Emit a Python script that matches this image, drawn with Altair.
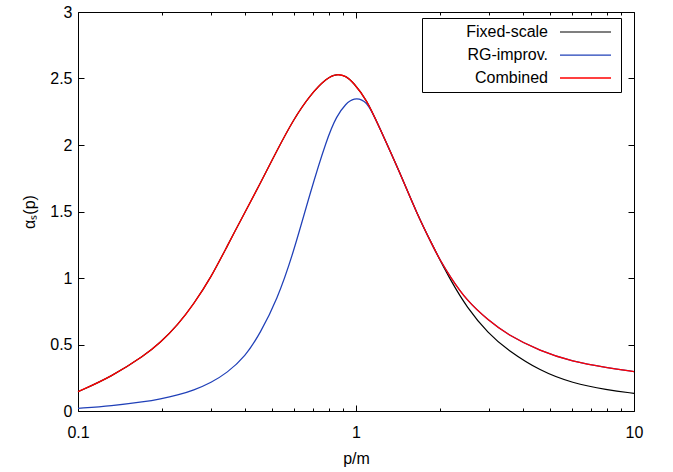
import altair as alt
import pandas as pd

# momentum p/m (log axis)
p_vals = [0.1, 0.132, 0.174, 0.197, 0.229, 0.26, 0.302, 0.343, 0.40, 0.452,
          0.52, 0.595, 0.683, 0.785, 0.852, 0.92, 0.978, 1.093, 1.203, 1.44,
          1.65, 1.9, 2.0, 2.18, 2.5, 3.0, 3.5, 4.6, 6.0, 8.0, 10.0]

fixed_scale = [0.145, 0.258, 0.42, 0.51, 0.65, 0.80, 1.01, 1.235, 1.50, 1.71,
               1.96, 2.19, 2.375, 2.505, 2.535, 2.52, 2.47, 2.34, 2.15, 1.79,
               1.49, 1.23, 1.14, 0.99, 0.78, 0.58, 0.46, 0.30, 0.21, 0.158, 0.133]

rg_improv = [0.02, 0.038, 0.07, 0.09, 0.12, 0.155, 0.215, 0.285, 0.41, 0.584,
             0.835, 1.186, 1.637, 2.045, 2.22, 2.31, 2.355, 2.34, 2.15, 1.79,
             1.49, 1.23, 1.14, 1.01, 0.83, 0.68, 0.575, 0.45, 0.372, 0.326, 0.296]

combined = [0.145, 0.258, 0.42, 0.51, 0.65, 0.80, 1.01, 1.235, 1.50, 1.71,
            1.96, 2.19, 2.375, 2.505, 2.535, 2.52, 2.47, 2.34, 2.15, 1.79,
            1.49, 1.23, 1.14, 1.01, 0.83, 0.68, 0.575, 0.45, 0.372, 0.326, 0.296]

series_names = ["Fixed-scale", "RG-improv.", "Combined"]
series_colors = ["#000000", "#2040b8", "#ff0000"]
series_widths = [1.2, 1.3, 2.2]

x_labels = [0.1, 1, 10]
x_major = [0.1, 1, 10]
x_minor = [0.2, 0.3, 0.4, 0.5, 0.6, 0.7, 0.8, 0.9, 2, 3, 4, 5, 6, 7, 8, 9]
y_ticks = [0, 0.5, 1, 1.5, 2, 2.5, 3]

rows = []
for name, vals in zip(series_names, [fixed_scale, rg_improv, combined]):
    for p, a in zip(p_vals, vals):
        rows.append({"p": p, "alpha": a, "series": name})
df = pd.DataFrame(rows)

FONT = "Liberation Sans"

xscale = alt.Scale(type="log", domain=[0.1, 10])
yscale = alt.Scale(domain=[0, 3])

# legend: labels right-aligned, line sample drawn to the right of the label
legend = alt.Legend(
    title=None, orient="none", legendX=344, legendY=6,
    symbolType="M124,0H175M176,0", symbolSize=4, symbolOffset=0,
    labelOffset=104, labelAlign="right", labelFontSize=16, labelFont=FONT,
    labelColor="black", strokeColor="black", fillColor="white",
    padding=6, rowPadding=7, labelLimit=300,
)

def tick_axis(values, orient, size):
    return alt.Axis(values=values, orient=orient, labels=False, domain=False,
                    grid=False, ticks=True, tickSize=size, offset=-size,
                    title=None, tickColor="black", tickWidth=1)

base = alt.Chart(df)

main = base.mark_line(interpolate="basis").encode(
    x=alt.X("p:Q", scale=xscale,
            axis=alt.Axis(values=x_labels, format="~g", orient="bottom",
                          ticks=False, tickSize=0, domain=False, grid=False,
                          labelPadding=13, labelFlush=False, labelOverlap=False,
                          title="p/m", titlePadding=10)),
    y=alt.Y("alpha:Q", scale=yscale,
            axis=alt.Axis(values=y_ticks, format="~g", orient="left",
                          ticks=False, tickSize=0, domain=False, grid=False,
                          labelPadding=6, labelFlush=False, labelOverlap=False,
                          title="αₛ(p)", titlePadding=12)),
    color=alt.Color("series:N", scale=alt.Scale(domain=series_names, range=series_colors),
                    legend=legend),
    strokeWidth=alt.StrokeWidth("series:N",
                                scale=alt.Scale(domain=series_names, range=series_widths),
                                legend=legend),
    detail="series:N",
)

def ghost(xaxis, yaxis):
    return base.mark_line(opacity=0).encode(
        x=alt.X("p:Q", scale=xscale, axis=xaxis),
        y=alt.Y("alpha:Q", scale=yscale, axis=yaxis),
        detail="series:N",
    )

g1 = ghost(tick_axis(x_major, "bottom", 6), tick_axis(y_ticks, "left", 6))
g2 = ghost(tick_axis(x_major, "top", 6), tick_axis(y_ticks, "right", 6))
g3 = ghost(tick_axis(x_minor, "bottom", 3), None)
g4 = ghost(tick_axis(x_minor, "top", 3), None)

chart = alt.layer(g1, g2, g3, g4, main).resolve_axis(
    x="independent", y="independent"
).properties(
    width=556, height=399,
    padding={"left": 78, "top": 12, "right": 39, "bottom": 61},
    autosize="none", background="white",
).configure_view(
    stroke="black", strokeWidth=1
).configure_axis(
    labelFont=FONT, labelFontSize=16, labelColor="black",
    titleFont=FONT, titleFontSize=16, titleColor="black", titleFontWeight="normal",
)

chart.save("out.html", embed_options={"renderer": "svg", "actions": False})
